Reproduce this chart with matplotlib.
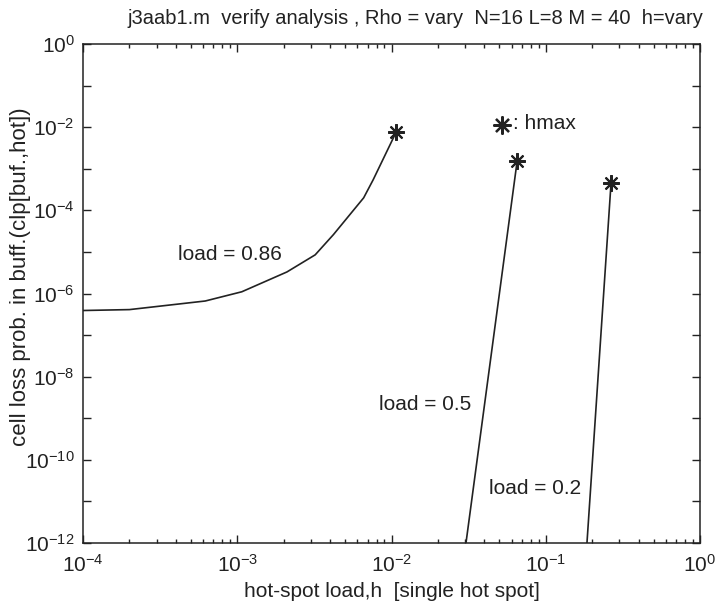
import matplotlib.pyplot as plt

# data
h_86 = [1e-4, 2e-4, 6.2e-4, 1.07e-3, 2.1e-3, 3.2e-3, 4.2e-3, 6.6e-3, 7.6e-3, 1.07e-2]
clp_86 = [3.9e-7, 4.1e-7, 6.6e-7, 1.1e-6, 3.3e-6, 8.5e-6, 2.6e-5, 2e-4, 5.4e-4, 7.5e-3]

h_50 = [0.0304, 0.0652]
clp_50 = [1e-12, 1.5e-3]

h_20 = [0.185, 0.265]
clp_20 = [1e-12, 4.5e-4]

xticks = [1e-4, 1e-3, 1e-2, 1e-1, 1e0]
xticklabels = ['$10^{-4}$', '$10^{-3}$', '$10^{-2}$', '$10^{-1}$', '$10^{0}$']
yticks = [10.0 ** -k for k in range(0, 13)]
yticklabels = ['$10^{-%d}$' % k if k % 2 == 0 else '' for k in range(0, 13)]
yticklabels[0] = '$10^{0}$'

plt.rcParams['font.family'] = ['Liberation Sans', 'DejaVu Sans']
plt.rcParams['mathtext.fontset'] = 'custom'
plt.rcParams['mathtext.rm'] = 'Liberation Sans'
plt.rcParams['mathtext.it'] = 'Liberation Sans'

fig = plt.figure(figsize=(7.2, 6.04), dpi=100)
ax = fig.add_axes([83 / 720, 1 - 543 / 604, 617 / 720, 499 / 604])

lc = '#222222'
star = (8, 2, 0)
ax.plot(h_86, clp_86, color=lc, lw=1.2)
ax.plot(h_50, clp_50, color=lc, lw=1.2)
ax.plot(h_20, clp_20, color=lc, lw=1.2)
ax.plot([h_86[-1], h_50[-1], h_20[-1]], [clp_86[-1], clp_50[-1], clp_20[-1]],
        linestyle='none', marker=star, markersize=12, markeredgewidth=1.5,
        color=lc)

ax.set_xscale('log')
ax.set_yscale('log')
ax.set_xlim(1e-4, 1)
ax.set_ylim(1e-12, 1)
ax.set_xticks(xticks)
ax.set_xticklabels(xticklabels)
ax.set_yticks(yticks)
ax.set_yticklabels(yticklabels)
ax.minorticks_on()
ax.yaxis.set_minor_locator(plt.NullLocator())
ax.tick_params(which='both', direction='in', top=True, right=True,
               labelsize=15, colors='#222222')
ax.tick_params(which='major', length=6, width=1)
ax.tick_params(which='minor', length=3, width=1)
ax.tick_params(axis='x', pad=8)
ax.tick_params(axis='y', pad=6)
for s in ax.spines.values():
    s.set_linewidth(1.1)
    s.set_color('#222222')

txt_kw = dict(fontsize=15, ha='center', va='center', color='#222222')
fig.text(230 / 720, 1 - 255 / 604, 'load = 0.86', **txt_kw)
fig.text(425 / 720, 1 - 405 / 604, 'load = 0.5', **txt_kw)
fig.text(535 / 720, 1 - 488 / 604, 'load = 0.2', **txt_kw)
fig.text(513 / 720, 1 - 124 / 604, ': hmax', fontsize=15, ha='left',
         va='center', color='#222222')
fig.lines.append(plt.Line2D([502 / 720], [1 - 125 / 604], marker=star,
                            markersize=13, markeredgewidth=1.6, color=lc,
                            transform=fig.transFigure))

fig.text(415 / 720, 1 - 19 / 604,
         'j3aab1.m  verify analysis , Rho = vary  N=16 L=8 M = 40  h=vary',
         fontsize=14.5, ha='center', va='center', color='#222222')
ax.set_xlabel('hot-spot load,h  [single hot spot]', fontsize=15,
              color='#222222', labelpad=4)
fig.text(21 / 720, 1 - 277 / 604, 'cell loss prob. in buff.(clp[buf.,hot])',
         fontsize=16, rotation=90, ha='center', va='center', color='#222222')

fig.savefig('out.png', dpi=100)
